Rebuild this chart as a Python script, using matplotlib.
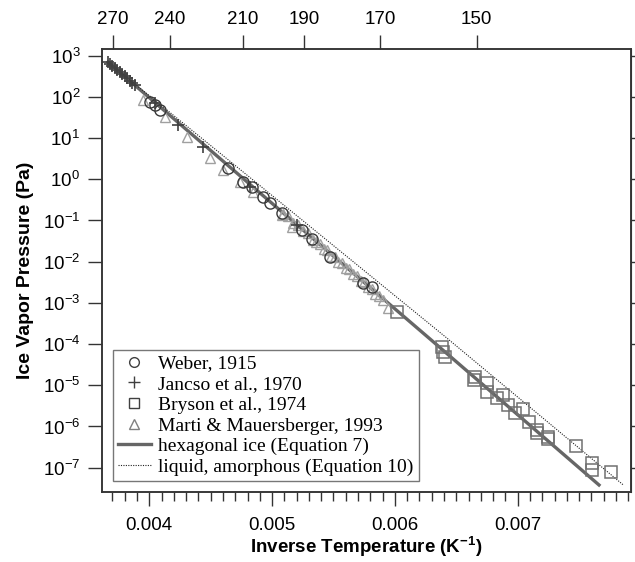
import matplotlib
matplotlib.use('Agg')
import matplotlib.pyplot as plt
from matplotlib.lines import Line2D
from matplotlib.ticker import FixedLocator, NullLocator, MultipleLocator, LogFormatterSciNotation

plt.rcParams['font.family'] = ['Liberation Sans', 'DejaVu Sans']
plt.rcParams['mathtext.fontset'] = 'custom'
plt.rcParams['mathtext.rm'] = 'Liberation Sans'
plt.rcParams['mathtext.bf'] = 'Liberation Sans:bold'
plt.rcParams['mathtext.default'] = 'regular'

# Weber, 1915 (inverse temperature in 1/K, pressure in Pa)
weber_x = [0.004006, 0.004046, 0.004087, 0.004643, 0.004765, 0.004834, 0.004928,
           0.004983, 0.005078, 0.005241, 0.005322, 0.005472, 0.005743, 0.005811]
weber_p = [76, 64, 48, 1.85, 0.875, 0.66, 0.378,
           0.261, 0.15, 0.0588, 0.0356, 0.0132, 0.0030, 0.00247]

# Jancso et al., 1970
jancso_x = [0.003665, 0.00368, 0.00370, 0.00372, 0.00374, 0.00376, 0.00378, 0.00380,
            0.00382, 0.00384, 0.00386, 0.00388, 0.004046, 0.004236, 0.00444, 0.00482, 0.0052]
jancso_p = [700, 640, 570, 505, 450, 400, 355, 315,
            280, 250, 220, 196, 71, 20.8, 6.2, 0.66, 0.078]

# Bryson et al., 1974
bryson_x = [0.006015, 0.006381, 0.006394, 0.006408, 0.006652, 0.006644, 0.006752, 0.006752,
            0.006834, 0.006878, 0.006919, 0.006978, 0.007046, 0.007094, 0.007155, 0.007155,
            0.007249, 0.007249, 0.007472, 0.007607, 0.007607, 0.007762]
bryson_p = [6.1e-4, 8.65e-5, 6.5e-5, 4.95e-5, 1.62e-5, 1.35e-5, 1.12e-5, 7.0e-6,
            4.8e-6, 5.8e-6, 3.3e-6, 2.1e-6, 2.6e-6, 1.31e-6, 8.2e-7, 6.8e-7,
            5.65e-7, 5.0e-7, 3.37e-7, 1.28e-7, 8.8e-8, 7.7e-8]

# Marti & Mauersberger, 1993
marti_x = [0.003951, 0.004128, 0.004305, 0.004494, 0.004603, 0.004739, 0.004847, 0.005078,
           0.00516, 0.00509, 0.00513, 0.00517, 0.00521, 0.00525, 0.00529, 0.00533, 0.00536,
           0.00539, 0.00542, 0.00545, 0.00548, 0.00551, 0.00554, 0.00557, 0.00560, 0.00563,
           0.00566, 0.00569, 0.00572, 0.00575, 0.00578, 0.00581, 0.00584, 0.00587, 0.00590,
           0.005947]
marti_p = [84, 33, 10.8, 3.2, 1.68, 0.875, 0.50, 0.136,
           0.071, 0.141, 0.126, 0.089, 0.079, 0.055, 0.050, 0.034, 0.0295,
           0.0275, 0.020, 0.019, 0.0141, 0.0132, 0.010, 0.0093, 0.0069, 0.0065,
           0.0049, 0.0046, 0.0034, 0.0032, 0.0024, 0.0022, 0.00166, 0.00151, 0.00117,
           7.4e-4]

# hexagonal ice (Equation 7)
hex_x = [0.003664, 0.005, 0.006286, 0.007662]
hex_p = [700, 0.26, 1.33e-4, 3.8e-8]

# liquid, amorphous (Equation 10)
liq_x = [0.003664, 0.004845, 0.006422, 0.00786]
liq_p = [700, 0.96, 1.41e-4, 3.8e-8]

top_temps = [270, 240, 210, 190, 170, 150]

fig = plt.figure(figsize=(6.35, 5.62), dpi=100)
ax = fig.add_axes([0.1614, 0.1246, 0.8318, 0.7882])

ax.plot(hex_x, hex_p, color='#666666', lw=2.4, zorder=2)
ax.plot(liq_x, liq_p, color='#222222', lw=0.8, ls=(0, (1, 1.2)), zorder=2)

ax.plot(marti_x, marti_p, ls='none', marker='^', ms=7.5, mfc='none', mec='#a0a0a0', mew=1.0, zorder=3)
ax.plot(bryson_x, bryson_p, ls='none', marker='s', ms=8, mfc='none', mec='#707070', mew=1.1, zorder=4)
ax.plot(weber_x, weber_p, ls='none', marker='o', ms=8, mfc='none', mec='#383838', mew=1.0, zorder=5)
ax.plot(jancso_x, jancso_p, ls='none', marker='+', ms=8, mec='#404040', mew=1.2, zorder=5)

ax.set_yscale('log')
ax.set_xlim(0.003619, 0.00792)
ax.set_ylim(2.57e-8, 1455)

ax.yaxis.set_major_locator(FixedLocator([10.0 ** k for k in range(-7, 4)]))
ax.yaxis.set_major_formatter(LogFormatterSciNotation())
ax.yaxis.set_minor_locator(NullLocator())
ax.xaxis.set_major_locator(FixedLocator([0.004, 0.005, 0.006, 0.007]))
ax.xaxis.set_major_formatter(plt.FuncFormatter(lambda v, pos: f'{v:.3f}'))
ax.xaxis.set_minor_locator(MultipleLocator(0.0001))

for s in ax.spines.values():
    s.set_color('#333333')
    s.set_linewidth(1.1)

ax.tick_params(axis='both', which='major', direction='out', length=10, width=1.0,
               color='#333333', labelsize=13.5, pad=6)
ax.tick_params(axis='x', which='minor', direction='out', length=6.5, width=1.0, color='#333333')
ax.tick_params(axis='x', which='major', pad=8)

# right side short ticks
axr = ax.secondary_yaxis('right')
axr.set_yscale('log')
axr.yaxis.set_major_locator(FixedLocator([10.0 ** k for k in range(-7, 4)]))
axr.yaxis.set_minor_locator(NullLocator())
axr.tick_params(axis='y', direction='out', length=3.5, width=1.0, color='#333333', labelright=False)
axr.spines['right'].set_color('#333333')

# top axis in temperature
axt = ax.twiny()
axt.set_xlim(ax.get_xlim())
axt.set_xticks([1.0 / t for t in top_temps])
axt.set_xticklabels([str(t) for t in top_temps])
axt.xaxis.set_minor_locator(NullLocator())
axt.tick_params(axis='x', direction='out', length=10, width=1.0, color='#333333',
                labelsize=13.5, pad=5)
for s in axt.spines.values():
    s.set_color('#333333')
    s.set_linewidth(1.1)

ax.set_xlabel(r'Inverse Temperature (K$^{\mathbf{-1}}$)', fontsize=13.5, fontweight='bold', labelpad=1)
ax.set_ylabel('Ice Vapor Pressure (Pa)', fontsize=14, fontweight='bold', labelpad=6)

# legend
handles = [
    Line2D([], [], ls='none', marker='o', ms=7, mfc='none', mec='#404040', mew=1.0),
    Line2D([], [], ls='none', marker='+', ms=8, mec='#404040', mew=1.0),
    Line2D([], [], ls='none', marker='s', ms=7, mfc='none', mec='#404040', mew=1.0),
    Line2D([], [], ls='none', marker='^', ms=6.5, mfc='none', mec='#808080', mew=1.0),
    Line2D([], [], color='#666666', lw=2.4),
    Line2D([], [], color='#222222', lw=0.8, ls=(0, (1, 1.2))),
]
labels = ['Weber, 1915', 'Jancso et al., 1970', 'Bryson et al., 1974',
          'Marti & Mauersberger, 1993', 'hexagonal ice (Equation 7)',
          'liquid, amorphous (Equation 10)']
leg = ax.legend(handles, labels, loc='lower left', bbox_to_anchor=(0.0193, 0.0248),
                borderaxespad=0, fancybox=False, frameon=True, handlelength=1.7,
                handletextpad=0.4, labelspacing=0.16, borderpad=0.25,
                prop={'family': ['Liberation Serif', 'DejaVu Serif'], 'size': 14})
leg.get_frame().set_edgecolor('#555555')
leg.get_frame().set_linewidth(1.0)
leg.set_zorder(10)

fig.savefig('out.png', dpi=100)
